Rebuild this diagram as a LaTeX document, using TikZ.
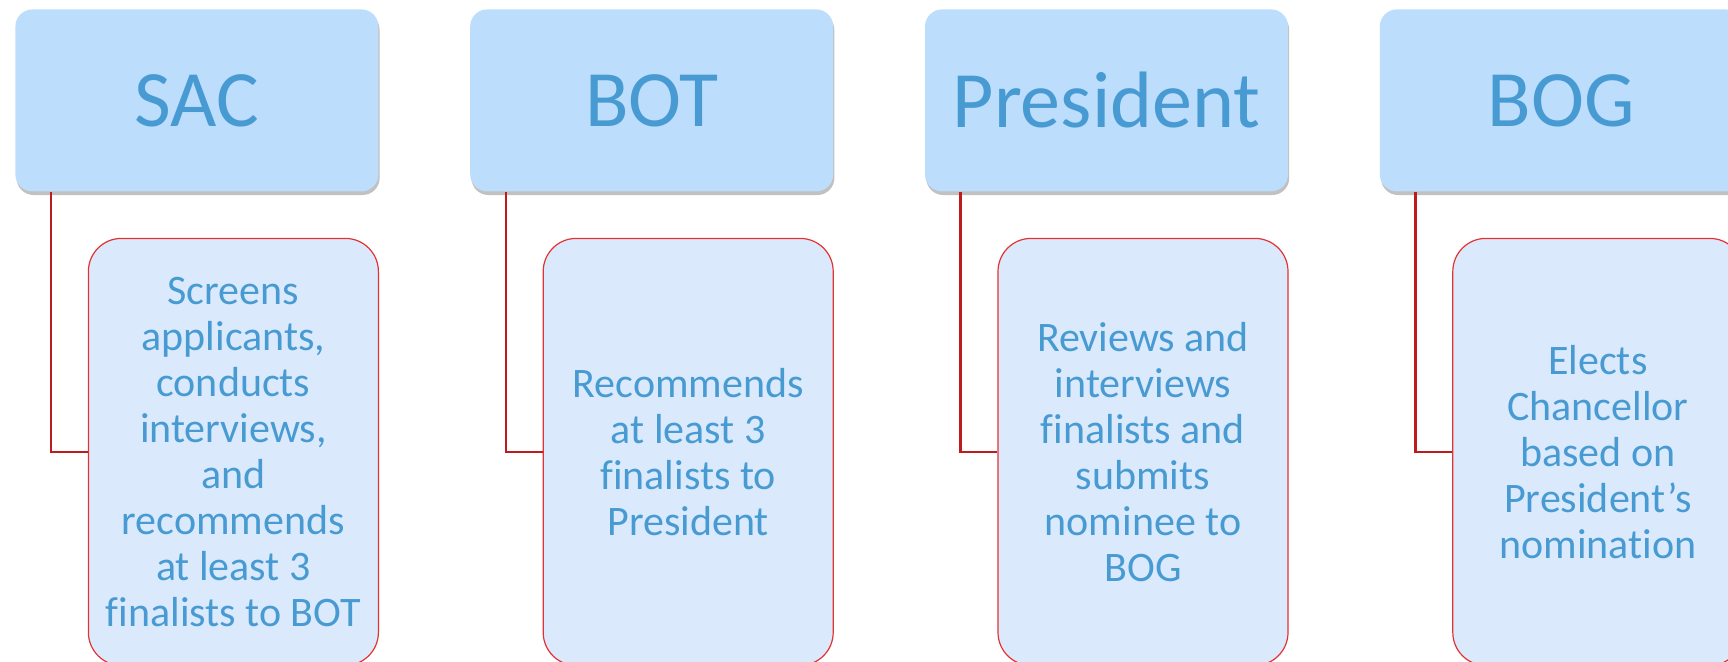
\documentclass[tikz,border=0pt]{standalone}
\usepackage{fontspec}
\setmainfont{Carlito}[Ligatures=NoCommon]
\usetikzlibrary{positioning,shadows}

\definecolor{headfill}{RGB}{189,221,252}
\definecolor{bodyfill}{RGB}{218,234,252}
\definecolor{textblue}{RGB}{72,155,210}
\definecolor{edgered}{RGB}{228,50,50}
\definecolor{linkred}{RGB}{190,28,28}

\begin{document}
\begin{tikzpicture}[
	head/.style={rectangle, rounded corners=8.5pt, fill=headfill, text=textblue,
		minimum width=181.5pt, minimum height=91pt, inner sep=0pt,
		font=\fontsize{40}{48}\selectfont,
		drop shadow={shadow xshift=0.6pt, shadow yshift=-1.8pt, opacity=0.35, fill=black!70}},
	body/.style={rectangle, rounded corners=16.5pt, draw=edgered, line width=0.6pt,
		fill=bodyfill, text=textblue, minimum width=145pt, minimum height=213.5pt,
		inner sep=0pt, align=center, font=\fontsize{21}{23}\selectfont},
	link/.style={draw=linkred, line width=1.2pt}
]

	\useasboundingbox (0,0) rectangle (864pt,-330.5pt);

	\node[head, anchor=north west] (sac) at (7.5pt,-4.5pt) {SAC};
	\node[head, right=45.5pt of sac] (bot) {BOT};
	\node[head, right=45.5pt of bot] (pres) {President};
	\node[head, right=45.5pt of pres] (bog) {BOG};

	\node[body, below=23pt of sac, xshift=18.25pt] (sacjob) {Screens\\applicants,\\conducts\\interviews,\\and\\recommends\\at least 3\\finalists to BOT};
	\node[body, below=23pt of bot, xshift=18.25pt] (botjob) {Recommends\\at least 3\\finalists to\\President};
	\node[body, below=23pt of pres, xshift=18.25pt] (presjob) {Reviews and\\interviews\\finalists and\\submits\\nominee to\\BOG};
	\node[body, below=23pt of bog, xshift=18.25pt] (bogjob) {Elects\\Chancellor\\based on\\President’s\\nomination};

	\draw[link] ([xshift=18pt]sac.south west) |- (sacjob.west);
	\draw[link] ([xshift=18pt]bot.south west) |- (botjob.west);
	\draw[link] ([xshift=18pt]pres.south west) |- (presjob.west);
	\draw[link] ([xshift=18pt]bog.south west) |- (bogjob.west);

\end{tikzpicture}
\end{document}
